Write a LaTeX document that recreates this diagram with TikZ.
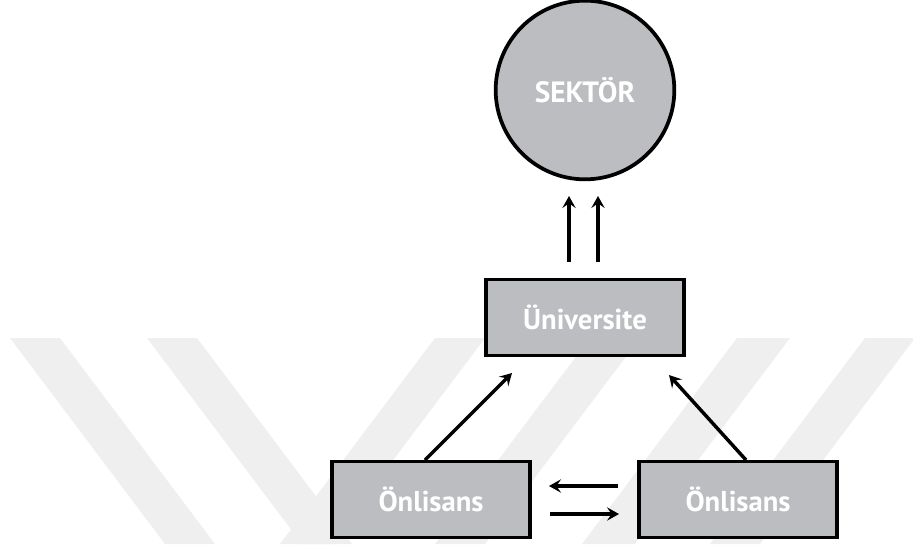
\documentclass[tikz,border=0pt]{standalone}
\usepackage{fontspec}
\setmainfont{PT Sans}
\usetikzlibrary{arrows.meta,calc}
\definecolor{boxgray}{HTML}{BCBDC0}
\definecolor{wmark}{HTML}{EFEFEF}
\tikzset{
  boxnode/.style={draw=black, line width=2.8pt, fill=boxgray, minimum width=149pt, minimum height=57pt, inner sep=0pt, text=white, font=\bfseries\fontsize{21.5}{25}\selectfont},
  circnode/.style={circle, draw=black, line width=2.8pt, fill=boxgray, minimum size=134pt, inner sep=0pt, text=white, font=\bfseries\fontsize{22}{26}\selectfont},
  arr/.style={line width=2.6pt, -{Stealth[length=9pt, width=10pt, inset=3.5pt]}},
  band/.style={fill=wmark, draw=none}
}
\begin{document}
\begin{tikzpicture}[x=0.75pt, y=-0.75pt]
\useasboundingbox (0,0) rectangle (913,544);
% watermark bands
\fill[band] (10,338) -- (60,338) -- (215,544) -- (165,544) -- cycle;
\fill[band] (147,338) -- (197,338) -- (352,544) -- (302,544) -- cycle;
\fill[band] (435,338) -- (485,338) -- (330,544) -- (280,544) -- cycle;
\fill[band] (590,338) -- (640,338) -- (485,544) -- (435,544) -- cycle;
\fill[band] (737,338) -- (790,338) -- (635,544) -- (582,544) -- cycle;
\fill[band] (865,338) -- (915,338) -- (760,544) -- (710,544) -- cycle;
% nodes
\node[circnode] (sek) at (585,90) {SEKTÖR};
\node[boxnode] (uni) at (585,317.5) {Üniversite};
\node[boxnode] (onL) at (431,499.5) {Önlisans};
\node[boxnode] (onR) at (738,499.5) {Önlisans};
% free ends
\coordinate (u1s) at (569,262); \coordinate (u1e) at (569,196);
\coordinate (u2s) at (598,262); \coordinate (u2e) at (598,196);
\coordinate (dLs) at (425,460); \coordinate (dLe) at (512,373);
\coordinate (dRs) at (746,460); \coordinate (dRe) at (669,375);
\coordinate (hUs) at (618,486); \coordinate (hUe) at (549,486);
\coordinate (hDs) at (550,514); \coordinate (hDe) at (619,514);
% connectors
\draw[arr] (u1s) -- (u1e);
\draw[arr] (u2s) -- (u2e);
\draw[arr] (dLs) -- (dLe);
\draw[arr] (dRs) -- (dRe);
\draw[arr] (hUs) -- (hUe);
\draw[arr] (hDs) -- (hDe);
\end{tikzpicture}
\end{document}
